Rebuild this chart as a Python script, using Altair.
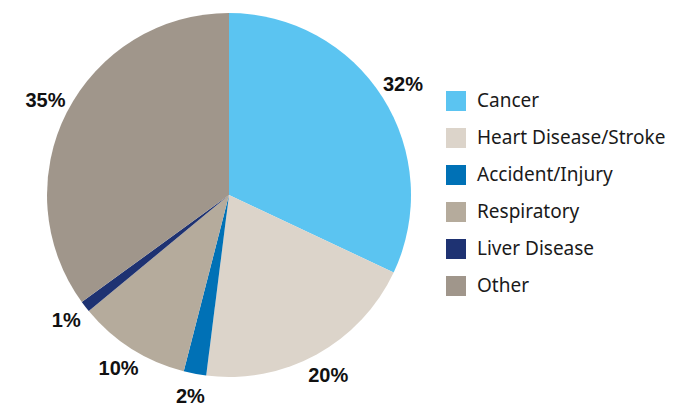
import altair as alt
import pandas as pd

categories = ["Cancer", "Heart Disease/Stroke", "Accident/Injury", "Respiratory", "Liver Disease", "Other"]
values = [32, 20, 2, 10, 1, 35]
labels = ["32%", "20%", "2%", "10%", "1%", "35%"]
colors = ["#5BC4F1", "#DCD4CA", "#0071B6", "#B5AB9C", "#1E3272", "#A0968B"]

df = pd.DataFrame({"category": categories, "value": values, "label": labels, "order": list(range(len(categories)))})

base = alt.Chart(df).encode(
    theta=alt.Theta("value:Q", stack=True),
    order=alt.Order("order:Q"),
)

arcs = base.mark_arc(outerRadius=182).encode(
    color=alt.Color(
        "category:N",
        scale=alt.Scale(domain=categories, range=colors),
        sort=categories,
        legend=alt.Legend(
            title=None,
            orient="none",
            legendX=433,
            legendY=78,
            symbolType="square",
            symbolSize=400,
            symbolStrokeWidth=0,
            labelFont="Noto Sans",
            labelFontSize=19,
            labelColor="#1a1a1a",
            labelOffset=11,
            rowPadding=17,
            labelLimit=300,
        ),
    )
)

text = base.mark_text(
    radius=206, font="Liberation Sans", fontSize=20, fontWeight="bold", color="#111111"
).encode(text="label:N")

chart = (
    alt.layer(arcs, text)
    .properties(width=432, height=364)
    .configure_view(stroke=None)
)

chart.save("out.html", embed_options={"renderer": "svg", "actions": False})
